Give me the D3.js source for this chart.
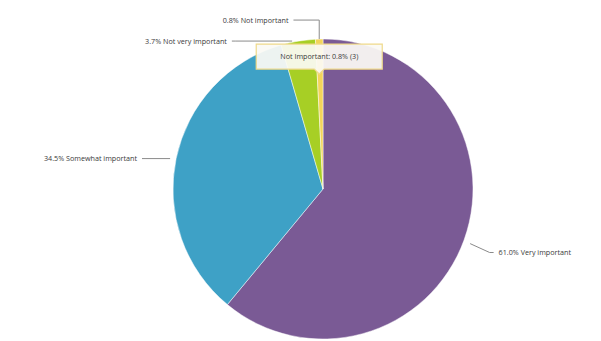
<!DOCTYPE html>
<html>
<head>
<meta charset="utf-8">
<script src="https://cdn.jsdelivr.net/npm/d3@7"></script>
<style>
  html, body { margin: 0; padding: 0; background: #fff; }
  svg { display: block; font-family: "Open Sans", "DejaVu Sans", sans-serif; }
</style>
</head>
<body>
<svg id="chart" width="601" height="341"></svg>
<script>
// Survey answers, in drawing order (clockwise from 12 o'clock)
const categories = ["Very important", "Somewhat important", "Not very important", "Not important"];
const percents   = [61.0, 34.5, 3.7, 0.8];
const colors     = ["#7a5a95", "#3ea1c6", "#a7cf25", "#f3d45a"];
const hoverLabel = "Not Important";
const hoverCount = 3;

const cx = 323, cy = 189, r = 150;
const labelRadius = 189;   // horizontal reach of the label ring
const ringSquash = 1.1;    // vertical squash of the label ring
const fontSize = 7.2;

const svg = d3.select("#chart");
const g = svg.append("g").attr("transform", `translate(${cx},${cy})`);

const pie = d3.pie().sort(null).value(d => d.value);
const data = pie(categories.map((c, i) => ({ name: c, value: percents[i], color: colors[i] })));
const arc = d3.arc().innerRadius(0).outerRadius(r);

g.selectAll("path.slice")
  .data(data)
  .join("path")
  .attr("class", "slice")
  .attr("d", arc)
  .attr("fill", d => d.data.color)
  .attr("stroke", "#ffffff")
  .attr("stroke-width", 0.8)
  .attr("stroke-opacity", 0.6);

// Label layout: start level with the slice tip (lower labels drop a little),
// then keep labels on each side apart
const minGap = 21;
const labels = data.map(d => {
  const a = (d.startAngle + d.endAngle) / 2;
  const px = r * Math.sin(a), py = -r * Math.cos(a);
  const y = py > 0 ? py * 1.25 : py;
  return { d, a, side: Math.sin(a) >= 0 ? 1 : -1, px, py, y };
});
[1, -1].forEach(side => {
  const list = labels.filter(l => l.side === side).sort((p, q) => q.y - p.y);
  for (let i = 1; i < list.length; i++) {
    if (list[i - 1].y - list[i].y < minGap) list[i].y = list[i - 1].y - minGap;
  }
});
labels.forEach(l => {
  const dy = Math.min(labelRadius - 1, Math.abs(l.y) * ringSquash);
  l.x = l.side * Math.sqrt(labelRadius * labelRadius - dy * dy);
});

const lg = g.append("g");
lg.selectAll("path.conn")
  .data(labels)
  .join("path")
  .attr("class", "conn")
  .attr("fill", "none")
  .attr("stroke", "#8a8a8a")
  .attr("stroke-width", 1)
  .attr("d", l => {
    const ex = l.x - l.side * 5;
    const sx = l.px + l.side * 6, sy = l.py + (l.y - l.py) * 0.3;
    if (l.y < l.py - 12) {
      // lifted label: run up from the slice tip, then across to the text
      return `M${l.px},${l.py} L${l.px},${l.y} L${ex},${l.y}`;
    }
    return `M${sx},${sy} L${ex - l.side * 4},${l.y} L${ex},${l.y}`;
  });

lg.selectAll("text.lab")
  .data(labels)
  .join("text")
  .attr("class", "lab")
  .attr("x", l => l.x)
  .attr("y", l => l.y)
  .attr("dy", "0.35em")
  .attr("text-anchor", l => l.side > 0 ? "start" : "end")
  .attr("font-size", fontSize)
  .attr("fill", "#3a3a3a")
  .text(l => `${d3.format(".1f")(l.d.data.value)}% ${l.d.data.name}`);

// Hover tooltip over the smallest slice
const hovered = data[data.length - 1];
const tipA = (hovered.startAngle + hovered.endAngle) / 2;
const tipX = r * Math.sin(tipA), tipY = -r * Math.cos(tipA) + 36;
const tip = g.append("g").attr("transform", `translate(${tipX},${tipY})`);
const tipText = `${hoverLabel}: ${d3.format(".1f")(hovered.data.value)}% (${hoverCount})`;
const tw = 126, th = 25;
tip.append("path")
  .attr("d", `M${-tw/2},${-th - 6} h${tw} v${th} h${-tw/2 + 5} l-5,5 l-5,-5 h${-tw/2 + 5} Z`)
  .attr("fill", "#fbfaf4")
  .attr("fill-opacity", 0.93)
  .attr("stroke", "#efd98a")
  .attr("stroke-width", 1.2);
tip.append("text")
  .attr("x", 0)
  .attr("y", -th / 2 - 6)
  .attr("dy", "0.35em")
  .attr("text-anchor", "middle")
  .attr("font-size", fontSize)
  .attr("fill", "#3a3a3a")
  .text(tipText);
</script>
</body>
</html>
